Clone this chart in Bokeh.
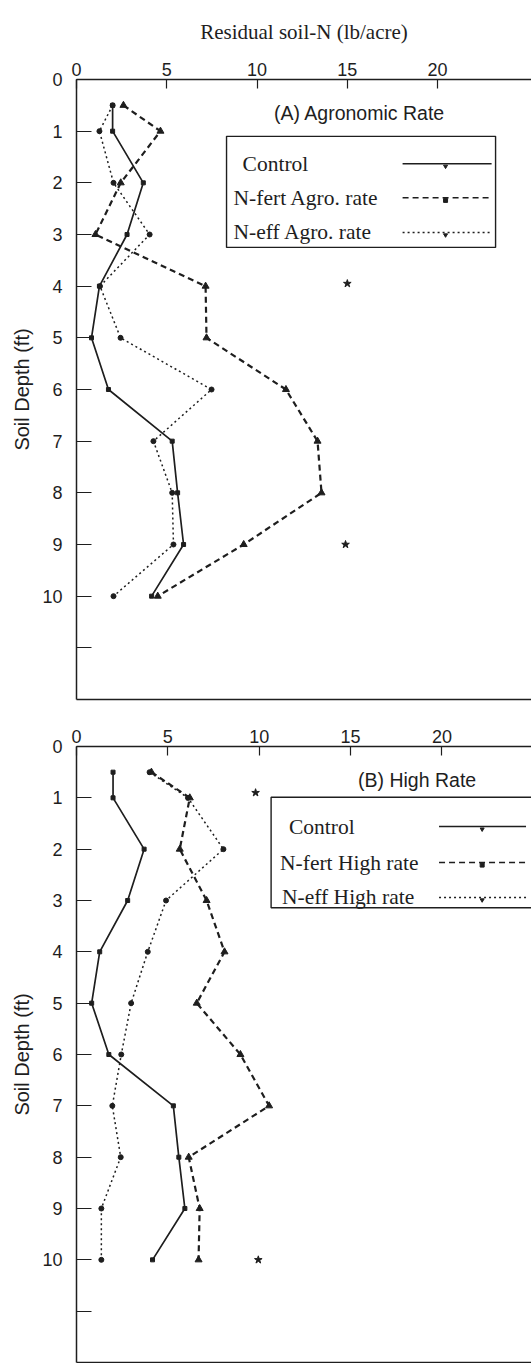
from bokeh.plotting import figure
from bokeh.models import Range1d, FixedTicker, LinearAxis
from bokeh.layouts import column
from bokeh.embed import file_html
from bokeh.resources import INLINE
from bokeh.core.properties import value

# ---------------- data ----------------
depth = [0.5, 1, 2, 3, 4, 5, 6, 7, 8, 9, 10]
control = [2.0, 2.0, 3.7, 2.8, 1.27, 0.83, 1.77, 5.3, 5.6, 5.93, 4.16]
nfert_agro = [2.6, 4.65, 2.45, 1.05, 7.15, 7.2, 11.6, 13.35, 13.57, 9.26, 4.5]
neff_agro = [2.0, 1.27, 2.05, 4.05, 1.3, 2.44, 7.48, 4.26, 5.3, 5.37, 2.05]
nfert_high = [4.1, 6.2, 5.65, 7.12, 8.1, 6.58, 8.97, 10.54, 6.14, 6.74, 6.68]
neff_high = [4.0, 6.1, 8.04, 4.9, 3.9, 2.99, 2.45, 1.96, 2.42, 1.36, 1.36]

sig_agro_x = [15.0, 14.9]
sig_agro_d = [3.95, 9.0]
sig_high_x = [9.8, 9.95]
sig_high_d = [0.9, 10.0]

x_ticks = [0, 5, 10, 15, 20]
depth_ticks = list(range(0, 12))
depth_labels = {d: str(d) for d in range(0, 11)}
depth_labels[11] = ""

legend_agro = ["Control", "N-fert Agro. rate", "N-eff Agro. rate"]
legend_high = ["Control", "N-fert High rate", "N-eff High rate"]
title_agro = "(A) Agronomic Rate"
title_high = "(B) High Rate"
x_title = "Residual soil-N (lb/acre)"
y_title = "Soil Depth (ft)"

# ---------------- styles ----------------
INK = "#1e1e1e"
SANS = "Liberation Sans"
SERIF = "Liberation Serif"
STYLES = [
    dict(line_dash="solid", line_width=1.7, marker="square", size=4),
    dict(line_dash="6 4", line_width=2.2, marker="triangle", size=7),
    dict(line_dash="2 3", line_width=1.5, marker="circle", size=5),
]


def make_panel(series, sig_x, sig_d, legend_labels, panel_title, geo, top_title=None):
    p = figure(
        width=531, height=geo["height"],
        x_range=Range1d(0, geo["x_end"]), y_range=Range1d(geo["y_end"], 0),
        x_axis_location="above",
        output_backend="svg", toolbar_location=None,
        min_border_left=geo["mbl"], min_border_right=0,
        min_border_top=geo["mbt"], min_border_bottom=geo["mbb"],
        background_fill_color="white", border_fill_color="white",
    )
    p.outline_line_color = None
    p.grid.visible = False

    xa = p.xaxis[0]
    xa.ticker = FixedTicker(ticks=x_ticks)
    xa.major_tick_in = 9
    xa.major_tick_out = 0
    xa.minor_tick_line_color = None
    xa.major_label_standoff = 4
    xa.major_label_text_font = SANS
    xa.major_label_text_font_size = "18px"
    xa.major_label_text_color = INK
    xa.axis_line_color = INK
    xa.axis_line_width = 1.5
    xa.major_tick_line_color = INK
    xa.major_tick_line_width = 1.2
    if top_title:
        xa.axis_label = top_title
        xa.axis_label_text_font = SERIF
        xa.axis_label_text_font_style = "normal"
        xa.axis_label_text_font_size = "21px"
        xa.axis_label_text_color = INK
        xa.axis_label_standoff = 16

    ya = p.yaxis[0]
    ya.ticker = FixedTicker(ticks=depth_ticks)
    ya.major_label_overrides = depth_labels
    ya.major_tick_in = 15
    ya.major_tick_out = 0
    ya.minor_tick_line_color = None
    ya.major_label_standoff = 14
    ya.major_label_text_font = SANS
    ya.major_label_text_font_size = "18px"
    ya.major_label_text_color = INK
    ya.axis_line_color = INK
    ya.axis_line_width = 1.5
    ya.major_tick_line_color = INK
    ya.major_tick_line_width = 1.2
    ya.axis_label = y_title
    ya.axis_label_text_font = SANS
    ya.axis_label_text_font_style = "normal"
    ya.axis_label_text_font_size = "20px"
    ya.axis_label_text_color = INK
    ya.axis_label_standoff = 6

    bottom = LinearAxis(ticker=FixedTicker(ticks=[]), major_label_text_font_size="0px",
                        major_tick_in=0, major_tick_out=0, minor_tick_in=0, minor_tick_out=0,
                        axis_line_color=INK, axis_line_width=1.5, major_label_standoff=0)
    p.add_layout(bottom, "below")

    for vals, st in zip(series, STYLES):
        p.line(vals, depth, line_color=INK, line_width=st["line_width"], line_dash=st["line_dash"])
        p.scatter(vals, depth, marker=st["marker"], size=st["size"], fill_color=INK, line_color=INK)

    p.scatter(sig_x, sig_d, marker="star", size=8, fill_color=INK, line_color=INK)

    # panel title
    p.text(x=[geo["title_x"]], y=[geo["title_d"]], text=[panel_title],
           text_font=value(SANS), text_font_size="19.5px", text_color=INK,
           text_align="center", text_baseline="middle")

    # legend (text left, line sample right)
    lg = geo["legend"]
    p.quad(left=[lg["box"][0]], right=[lg["box"][1]], top=[lg["box"][2]], bottom=[lg["box"][3]],
           fill_color=None, line_color=INK, line_width=1.4)
    p.text(x=lg["text_x"], y=lg["row_d"], text=legend_labels,
           text_font=value(SERIF), text_font_size="21.5px", text_color=INK,
           text_align="left", text_baseline="middle")
    for rd, st, mk in zip(lg["row_d"], STYLES, ["inverted_triangle", "square", "inverted_triangle"]):
        p.line([lg["line_x0"], lg["line_x1"]], [rd, rd], line_color=INK,
               line_width=1.5, line_dash=st["line_dash"])
        p.scatter([lg["mark_x"]], [rd + 0.05], marker=mk, size=4, fill_color=INK, line_color=INK)
    return p


geo_a = dict(height=710, x_end=25.2, y_end=12.0, mbl=76, mbt=79, mbb=11,
             title_x=15.68, title_d=0.64,
             legend=dict(box=(8.31, 23.21, 1.10, 3.25), text_x=[9.2, 8.7, 8.7],
                         row_d=[1.63, 2.29, 2.96], line_x0=18.06, line_x1=22.99, mark_x=20.44))
geo_b = dict(height=653, x_end=24.9, y_end=12.0, mbl=73, mbt=36, mbb=1,
             title_x=18.64, title_d=0.66,
             legend=dict(box=(10.65, 30.0, 0.99, 3.14), text_x=[11.63, 11.14, 11.25],
                         row_d=[1.56, 2.26, 2.94], line_x0=19.84, line_x1=24.6, mark_x=22.2))

pa = make_panel([control, nfert_agro, neff_agro], sig_agro_x, sig_agro_d,
                legend_agro, title_agro, geo_a, top_title=x_title)
pb = make_panel([control, nfert_high, neff_high], sig_high_x, sig_high_d,
                legend_high, title_high, geo_b)

layout = column(pa, pb, spacing=0)
open("out.html", "w").write(file_html(layout, INLINE))
